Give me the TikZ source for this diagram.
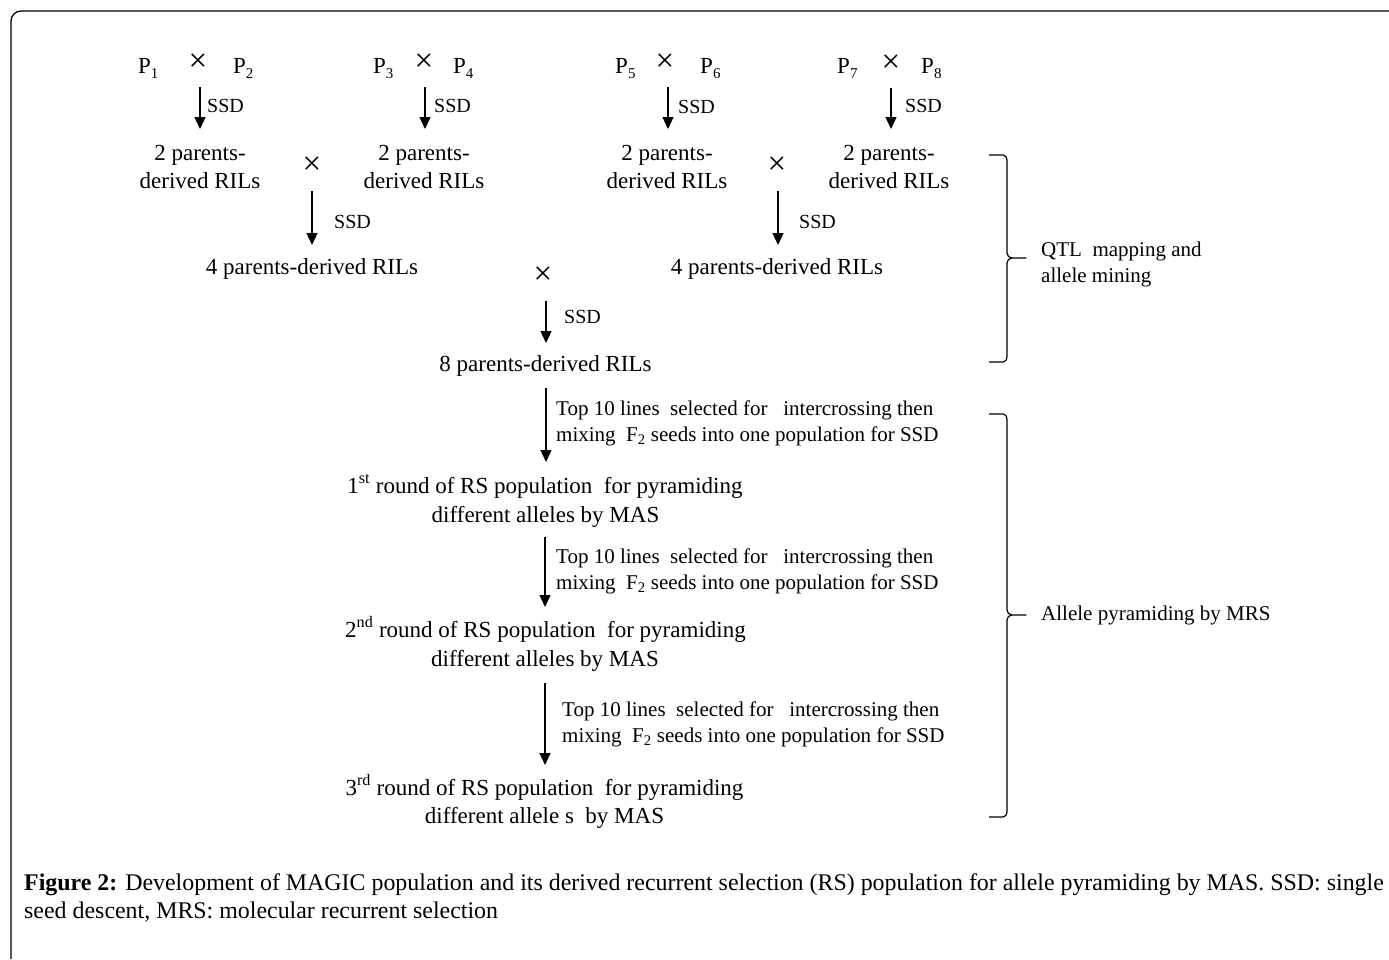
\documentclass[tikz,border=0pt]{standalone}
\usepackage{fontspec}
\setmainfont{Liberation Serif}
\usetikzlibrary{arrows.meta}
\newcommand{\Ps}[1]{P\raisebox{-0.22em}{\fontsize{15}{15}\selectfont #1}}
\begin{document}
\begin{tikzpicture}[x=1pt,y=-1pt,
  big/.style={font=\fontsize{23}{28}\selectfont,inner sep=0pt,anchor=base},
  bigl/.style={font=\fontsize{23}{28}\selectfont,inner sep=0pt,anchor=base west},
  ssdlabel/.style={font=\fontsize{20}{24}\selectfont,inner sep=0pt,anchor=base west},
  note/.style={font=\fontsize{21}{26}\selectfont,inner sep=0pt,anchor=base west},
  side/.style={font=\fontsize{21}{26}\selectfont,inner sep=0pt,anchor=base west},
  captext/.style={font=\fontsize{23.9}{28}\selectfont,inner sep=0pt,anchor=base west},
  cross/.style={font=\fontsize{33}{33}\selectfont,inner sep=0pt},
  arr/.style={line width=1.3pt,-{Triangle[length=12pt,width=11pt]}},
  brace/.style={line width=1.2pt,line join=round},
  frame/.style={line width=1.3pt}]
\useasboundingbox (0,0) rectangle (1389,959);
% outer frame
\draw[frame,rounded corners=10pt] (1389,11) -- (11,11) -- (11,959);
% parent row
\node[bigl] (p1) at (138,73) {\Ps{1}};
\node[bigl] (p2) at (233,73) {\Ps{2}};
\node[bigl] (p3) at (373,73) {\Ps{3}};
\node[bigl] (p4) at (453,73) {\Ps{4}};
\node[bigl] (p5) at (615,73) {\Ps{5}};
\node[bigl] (p6) at (700,73) {\Ps{6}};
\node[bigl] (p7) at (837,73) {\Ps{7}};
\node[bigl] (p8) at (921,73) {\Ps{8}};
\node[cross] (x12) at (198,63) {×};
\node[cross] (x34) at (424,63) {×};
\node[cross] (x56) at (665,63) {×};
\node[cross] (x78) at (891,64) {×};
% 2-parent RILs
\node[big] (r1a) at (200,160) {2 parents-};
\node[big] (r1b) at (200,188) {derived RILs};
\node[big] (r2a) at (424,160) {2 parents-};
\node[big] (r2b) at (424,188) {derived RILs};
\node[big] (r3a) at (667,160) {2 parents-};
\node[big] (r3b) at (667,188) {derived RILs};
\node[big] (r4a) at (889,160) {2 parents-};
\node[big] (r4b) at (889,188) {derived RILs};
\node[cross] (x1234) at (312,166) {×};
\node[cross] (x5678) at (777,166) {×};
% 4-parent RILs
\node[big] (q1) at (312,274) {4 parents-derived RILs};
\node[big] (q2) at (777,274) {4 parents-derived RILs};
\node[cross] (xq) at (543,276) {×};
% 8-parent RILs
\node[big] (e8) at (545.5,371) {8 parents-derived RILs};
% RS rounds
\node[big] (rs1a) at (545,493) {1\textsuperscript{st} round of RS population\ \ for pyramiding};
\node[big] (rs1b) at (545.5,522) {different alleles by MAS};
\node[big] (rs2a) at (545.5,637) {2\textsuperscript{nd} round of RS population\ \ for pyramiding};
\node[big] (rs2b) at (545,666) {different alleles by MAS};
\node[big] (rs3a) at (544.5,795) {3\textsuperscript{rd} round of RS population\ \ for pyramiding};
\node[big] (rs3b) at (544.5,823) {different allele s\ \ by MAS};
% arrow end points
\coordinate (a1s) at (200,87);  \coordinate (a1e) at (200,129);
\coordinate (a2s) at (425,87);  \coordinate (a2e) at (425,129);
\coordinate (a3s) at (668,87);  \coordinate (a3e) at (668,129);
\coordinate (a4s) at (891,88);  \coordinate (a4e) at (891,129);
\coordinate (a5s) at (312,191); \coordinate (a5e) at (312,245);
\coordinate (a6s) at (778,191); \coordinate (a6e) at (778,245);
\coordinate (a7s) at (546,301); \coordinate (a7e) at (546,343);
\coordinate (a8s) at (546,388); \coordinate (a8e) at (546,462);
\coordinate (a9s) at (545,537); \coordinate (a9e) at (545,607);
\coordinate (a10s) at (545,683); \coordinate (a10e) at (545,765);
\draw[arr] (a1s) -- (a1e);
\draw[arr] (a2s) -- (a2e);
\draw[arr] (a3s) -- (a3e);
\draw[arr] (a4s) -- (a4e);
\draw[arr] (a5s) -- (a5e);
\draw[arr] (a6s) -- (a6e);
\draw[arr] (a7s) -- (a7e);
\draw[arr] (a8s) -- (a8e);
\draw[arr] (a9s) -- (a9e);
\draw[arr] (a10s) -- (a10e);
% SSD labels
\node[ssdlabel] (s1) at (207,112) {SSD};
\node[ssdlabel] (s2) at (434,112) {SSD};
\node[ssdlabel] (s3) at (678,113) {SSD};
\node[ssdlabel] (s4) at (905,112) {SSD};
\node[ssdlabel] (s5) at (334,228) {SSD};
\node[ssdlabel] (s6) at (799,228) {SSD};
\node[ssdlabel] (s7) at (564,323) {SSD};
% selection notes
\node[note] (n1a) at (556,415) {Top 10 lines\ \ selected for\ \ \ intercrossing then};
\node[note] (n1b) at (556,441) {mixing\ \ F\textsubscript{2} seeds into one population for SSD};
\node[note] (n2a) at (556,563) {Top 10 lines\ \ selected for\ \ \ intercrossing then};
\node[note] (n2b) at (556,589) {mixing\ \ F\textsubscript{2} seeds into one population for SSD};
\node[note] (n3a) at (562,716) {Top 10 lines\ \ selected for\ \ \ intercrossing then};
\node[note] (n3b) at (562,742) {mixing\ \ F\textsubscript{2} seeds into one population for SSD};
% braces
\draw[brace] (989,155) -- (1003,155) to[out=0,in=90] (1007,160) -- (1007,253)
  to[out=-90,in=180] (1012,258) -- (1026,258) -- (1012,258) to[out=180,in=90] (1007,263)
  -- (1007,357) to[out=-90,in=0] (1003,362) -- (989,362);
\draw[brace] (989,414) -- (1003,414) to[out=0,in=90] (1007,419) -- (1007,610)
  to[out=-90,in=180] (1012,615) -- (1026,615) -- (1012,615) to[out=180,in=90] (1007,620)
  -- (1007,812) to[out=-90,in=0] (1003,817) -- (989,817);
\node[side] (l1a) at (1041,256) {QTL\ \ mapping and};
\node[side] (l1b) at (1041,282) {allele mining};
\node[side] (l2) at (1041,620) {Allele pyramiding\ by MRS};
% caption
\node[captext] (c1) at (24,890) {\textbf{Figure 2:} Development of MAGIC population and its derived recurrent selection (RS) population for allele pyramiding by MAS. SSD: single};
\node[captext] (c2) at (24,918) {seed descent, MRS: molecular recurrent selection};
\end{tikzpicture}
\end{document}
